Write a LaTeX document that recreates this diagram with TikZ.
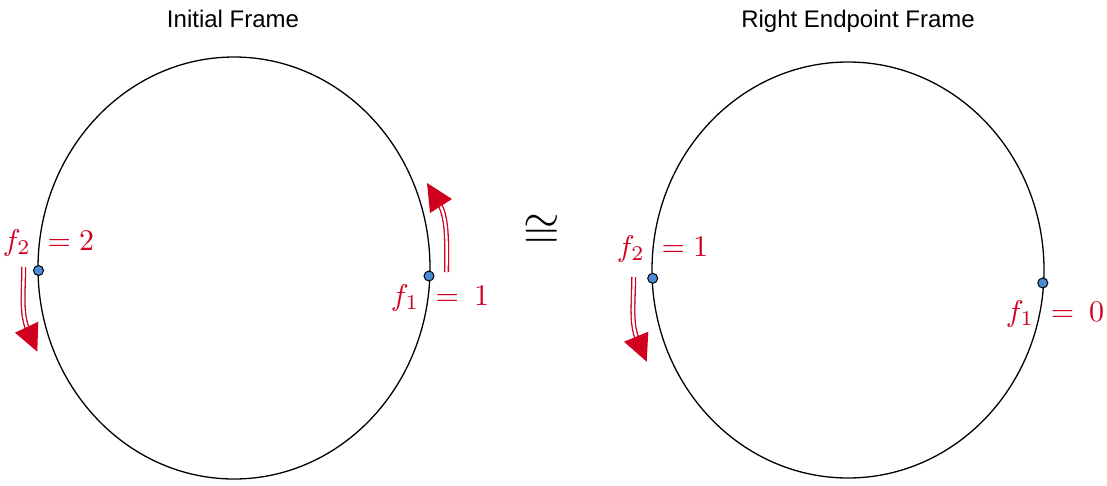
\documentclass[tikz,border=0pt]{standalone}
\usepackage{fontspec}
\setsansfont{Liberation Sans}
\usetikzlibrary{calc}
\definecolor{fred}{RGB}{208,0,30}
\definecolor{fblue}{RGB}{74,138,214}

\begin{document}
\begin{tikzpicture}[x=1pt,y=-1pt,
  line/.style={draw=black,line width=1.3pt},
  title/.style={font=\sffamily\fontsize{24}{28}\selectfont,text=black,anchor=base},
  val/.style={text=fred,scale=3,anchor=base,inner sep=0pt},
  dot/.style={circle,draw=black,line width=1pt,fill=fblue,minimum size=10pt,inner sep=0pt},
  flow/.style={draw=fred,line width=1.3pt,double=white,double distance=2.4pt},
  tip/.style={fill=fred},
]
\useasboundingbox (0,0) rectangle (1107,485);

% frames
\coordinate (lc) at (234,268);
\coordinate (rc) at (848,270);
\draw[line] (lc) ellipse [x radius=196,y radius=211];
\draw[line] (rc) ellipse [x radius=196,y radius=208];
\node[title] (lt) at (233,27) {Initial Frame};
\node[title] (rt) at (858,27) {Right Endpoint Frame};
\node[scale=4.7,inner sep=0pt] (iso) at (541.5,231.5) {$\cong$};

% left frame
\coordinate (s1) at (23.7,267);
\coordinate (b1) at (27.9,330);
\coordinate (t1) at (37.3,351.7);
\coordinate (h1a) at (15,332.7);
\coordinate (h1b) at (38.3,321.7);
\draw[flow] (s1) .. controls (23.7,292) and (20.7,313) .. (b1);
\fill[tip] (h1a) -- (t1) -- (h1b) -- cycle;

\coordinate (s2) at (446.5,272);
\coordinate (b2) at (439.3,203.7);
\coordinate (t2) at (427,183);
\coordinate (h2a) at (452,199);
\coordinate (h2b) at (430,213);
\draw[flow] (s2) .. controls (446.5,250) and (448.4,219) .. (b2);
\fill[tip] (h2a) -- (t2) -- (h2b) -- cycle;

\node[dot] (p2) at (38.5,270.5) {};
\node[dot] (p1) at (429,276) {};
\node[val] (v2) at (48.5,250) {$f_2\;= 2$};
\node[val] (v1) at (440,305) {$f_1\;=\:1$};

% right frame
\coordinate (s3) at (633.7,277);
\coordinate (b3) at (637.4,339.5);
\coordinate (t3) at (646.7,361.7);
\coordinate (h3a) at (624,341.7);
\coordinate (h3b) at (648.3,331.7);
\draw[flow] (s3) .. controls (633.7,300) and (630.4,323) .. (b3);
\fill[tip] (h3a) -- (t3) -- (h3b) -- cycle;

\node[dot] (q2) at (652.7,278.3) {};
\node[dot] (q1) at (1042.8,283) {};
\node[val] (w2) at (662.5,256) {$f_2\;= 1$};
\node[val] (w1) at (1055,321) {$f_1\;=\:0$};

\end{tikzpicture}
\end{document}
